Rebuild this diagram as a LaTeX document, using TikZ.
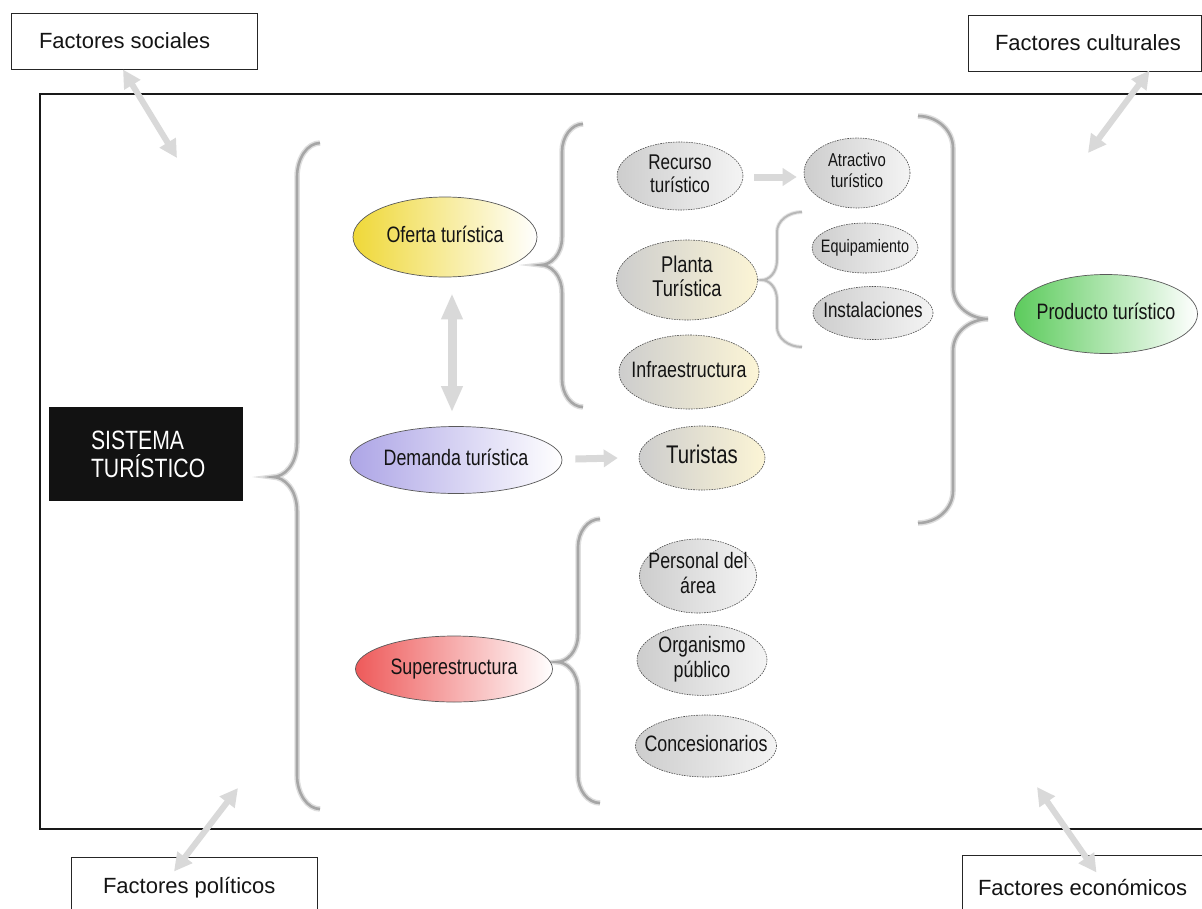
\documentclass[tikz,border=0pt]{standalone}
\usepackage{fontspec}
\setmainfont{Liberation Sans}
\newfontfamily\nf[FakeStretch=0.8]{Liberation Sans}
\usetikzlibrary{shapes.geometric,arrows.meta,calc}
\definecolor{txt}{HTML}{141414}
\definecolor{arrowgray}{HTML}{D9D9D9}
\definecolor{bracegray}{HTML}{A6A6A6}
\definecolor{braceshadow}{HTML}{DEDEDE}
\definecolor{yel}{HTML}{EFD838}
\definecolor{pur}{HTML}{ADA5E6}
\definecolor{redd}{HTML}{EE5A5A}
\definecolor{grn}{HTML}{5CCB5C}
\definecolor{gl}{HTML}{CDCDCD}
\definecolor{gr}{HTML}{F4F4F4}
\definecolor{cr}{HTML}{FCF5D6}
\newcommand\zw[1]{\makebox[0pt]{\begin{tabular}{@{}c@{}}#1\end{tabular}}}
\newcommand\lbx[2]{\makebox[#1][l]{#2}}
% #1 style, #2 end x, #3 vertical x, #4 tip x, #5 top y, #6 tip y, #7 bottom y, #8 radius
\newcommand\gbrace[8]{%
 \draw[#1] (#2,#5) .. controls ({#3+0.45*(#2-#3)},#5) and (#3,{#5+0.45*#8}) .. (#3,{#5+#8})
   -- (#3,{#6-#8}) .. controls (#3,{#6-0.35*#8}) and ({#4+0.45*(#3-#4)},#6) .. (#4,#6)
   .. controls ({#4+0.45*(#3-#4)},#6) and (#3,{#6+0.35*#8}) .. (#3,{#6+#8})
   -- (#3,{#7-#8}) .. controls (#3,{#7-0.45*#8}) and ({#3+0.45*(#2-#3)},#7) .. (#2,#7);}
\begin{document}
\begin{tikzpicture}[x=1pt,y=-1pt,
  fbox/.style={draw=black!85, line width=1pt, fill=white, inner xsep=#1, inner ysep=0pt,
     font=\fontsize{22}{26}\selectfont, text=txt},
  ell/.style={ellipse, inner sep=0pt, text=txt, line width=0.7pt},
  solidell/.style={ell, draw=black!65},
  dashell/.style={ell, draw=black!70, dash pattern=on 1.6pt off 1pt, line width=0.6pt},
  f21/.style={font=\nf\fontsize{22.3}{25}\selectfont},
  bigbrace/.style={draw=bracegray, line width=2.6pt, preaction={draw=braceshadow, line width=5.5pt}},
  smallbrace/.style={draw=bracegray!80, line width=2pt, preaction={draw=braceshadow!80, line width=4pt}},
  dblarrow/.style={draw=arrowgray, line width=6pt, {Triangle[length=18pt,width=18pt]}-{Triangle[length=18pt,width=18pt]}},
  sarrow/.style={draw=arrowgray, line width=7pt, -{Triangle[length=14pt,width=17pt]}},
]
\useasboundingbox (0,0) rectangle (1202,908);
\clip (0,0) rectangle (1202,908);
\fill[white] (0,0) rectangle (1202,908);

% main frame
\draw[line width=1.5pt, black!90] (1215,94) -- (40,94) -- (40,829) -- (1215,829);

% factor boxes
\node[fbox=28pt, minimum height=56pt] (fsoc) at (134,41) {\lbx{190pt}{Factores sociales}};
\node[fbox=27pt, minimum height=56pt] (fcul) at (1084.5,43) {\lbx{179pt}{Factores culturales}};
\node[fbox=32pt, minimum height=62pt] (fpol) at (194,888) {\lbx{182pt}{Factores políticos}};
\node[fbox=16pt, minimum height=64pt] (feco) at (1088.5,887) {\lbx{221pt}{Factores económicos}};

% sistema turistico
\node[fill=black!93, text=white, minimum width=194pt, minimum height=94pt, inner xsep=42pt,
      text width=110pt, align=left, font=\nf\fontsize{26.5}{28}\selectfont] (sis) at (146,454)
      {SISTEMA\\TURÍSTICO};

% braces
\gbrace{bigbrace}{320}{297}{273}{143}{477}{809}{34}
\gbrace{bigbrace}{583}{562}{541}{124}{265}{407}{28}
\gbrace{smallbrace}{802}{777}{762}{212}{280}{347}{20}
\gbrace{bigbrace}{918}{953}{988}{116}{319}{523}{32}
\gbrace{bigbrace}{600}{578}{557}{519}{662}{803}{28}

% main ellipses
\node[solidell, f21, left color=yel, right color=white, minimum width=184pt, minimum height=80pt] (ofe) at (445,237) {\zw{Oferta turística}};
\node[solidell, f21, left color=pur, right color=white, minimum width=212pt, minimum height=67pt] (dem) at (456,460) {\zw{Demanda turística}};
\node[solidell, f21, left color=redd, right color=white, minimum width=197pt, minimum height=66pt] (sup) at (454,669) {\zw{Superestructura}};
\node[solidell, f21, left color=grn, right color=white, minimum width=183pt, minimum height=79pt] (pro) at (1106,314) {\zw{Producto turístico}};

% secondary ellipses
\node[dashell, font=\nf\fontsize{21.3}{23}\selectfont, left color=gl, right color=gr, minimum width=126pt, minimum height=68pt] (rec) at (680,176) {\zw{Recurso\\turístico}};
\node[dashell, font=\nf\fontsize{18.6}{21}\selectfont, left color=gl, right color=gr, minimum width=106pt, minimum height=70pt] (atr) at (857,173) {\zw{Atractivo\\turístico}};
\node[dashell, font=\nf\fontsize{22.8}{24}\selectfont, left color=gl, right color=cr, minimum width=141pt, minimum height=80pt] (pla) at (687,280) {\zw{Planta\\Turística}};
\node[dashell, font=\nf\fontsize{18}{20}\selectfont, left color=gl, right color=gr, minimum width=106pt, minimum height=50pt] (equ) at (865,248) {\zw{Equipamiento}};
\node[dashell, font=\nf\fontsize{21.3}{23}\selectfont, left color=gl, right color=gr, minimum width=120pt, minimum height=53pt] (ins) at (873,313) {\zw{Instalaciones}};
\node[dashell, f21, left color=gl, right color=cr, minimum width=140pt, minimum height=74pt] (inf) at (689,372) {\zw{Infraestructura}};
\node[dashell, font=\nf\fontsize{25.5}{27}\selectfont, left color=gl, right color=cr, minimum width=126pt, minimum height=64pt] (tur) at (702,458) {\zw{Turistas}};
\node[dashell, f21, left color=gl, right color=gr, minimum width=117pt, minimum height=74pt] (per) at (698,576) {\zw{Personal del\\área}};
\node[dashell, f21, left color=gl, right color=gr, minimum width=130pt, minimum height=66pt] (org) at (702,660) {\zw{Organismo\\público}};
\node[dashell, f21, left color=gl, right color=gr, minimum width=141pt, minimum height=62pt] (con) at (706,746) {\zw{Concesionarios}};

% arrows between nodes
\draw[sarrow] ([xshift=11pt,yshift=-1pt]rec.east) -- ([xshift=-7pt,yshift=-4pt]atr.west);
\draw[sarrow] ([xshift=13pt,yshift=1pt]dem.east) -- ([xshift=-21pt]tur.west);
\draw[draw=arrowgray, line width=9pt, {Triangle[length=26pt,width=20pt]}-{Triangle[length=26pt,width=20pt]}]
   ([xshift=7pt,yshift=-16pt]ofe.south) -- ([xshift=-4pt,yshift=14pt]dem.north);

% factor arrows
\coordinate (csoc) at (177,158);
\coordinate (ccul) at (1088,153);
\coordinate (cpol) at (238,788);
\coordinate (ceco) at (1037,787);
\draw[dblarrow] ([xshift=-11pt]fsoc.south) -- (csoc);
\draw[dblarrow] ([xshift=65pt,yshift=1pt]fcul.south) -- (ccul);
\draw[dblarrow] ([xshift=-20pt,yshift=-15pt]fpol.north) -- (cpol);
\draw[dblarrow] ([xshift=8pt,yshift=-18pt]feco.north) -- (ceco);
\end{tikzpicture}
\end{document}
